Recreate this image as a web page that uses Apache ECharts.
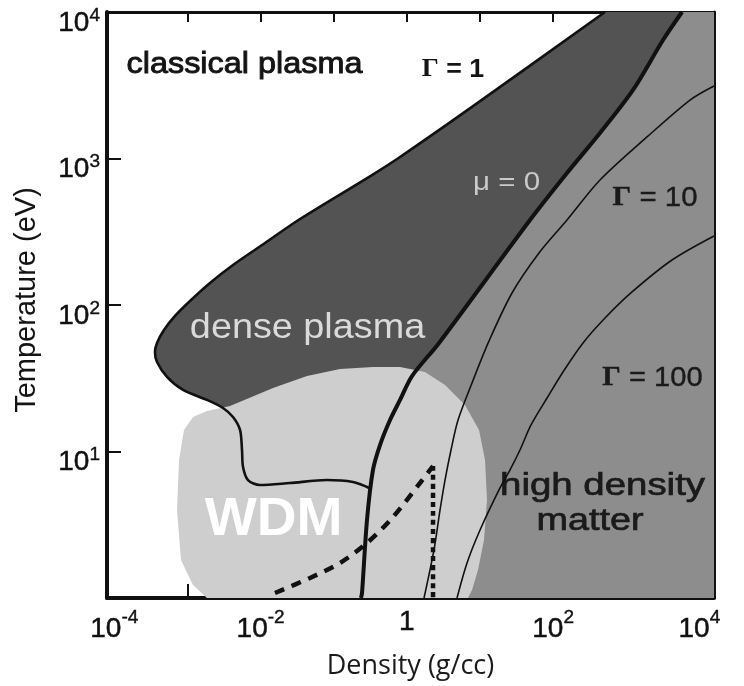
<!DOCTYPE html>
<html>
<head>
<meta charset="utf-8">
<title>Temperature vs density - WDM</title>
<script src="https://cdn.jsdelivr.net/npm/echarts@6.0.0/dist/echarts.min.js"></script>
<style>
    html, body { margin: 0; padding: 0; background: #fff; }
    #chart { width: 744px; height: 686px; }
</style>
</head>
<body>
<div id="chart"></div>
<script>
// every value is a log10: x = log10(density in g/cc), y = log10(T in eV)
var xTickLabels = [-4, -2, 0, 2, 4];
var xTicks = [-3, -2, -1, 0, 1, 2, 3];
var yTickLabels = [1, 2, 3, 4];
var yTicks = [1, 2, 3];

// Gamma = 1 line, round the nose, then the thin line that runs into mu = 0
var gamma1Line = [[2.710, 4.0], [0.891, 3.352], [-0.093, 3.010], [-0.476, 2.887], [-1.461, 2.587],
    [-1.939, 2.423], [-2.377, 2.273], [-2.692, 2.150], [-2.965, 2.027], [-3.170, 1.925],
    [-3.321, 1.829], [-3.416, 1.741], [-3.444, 1.679], [-3.416, 1.611], [-3.280, 1.509],
    [-3.061, 1.420], [-2.733, 1.352], [-2.514, 1.297], [-2.377, 1.235], [-2.281, 1.147],
    [-2.254, 1.010], [-2.240, 0.894], [-2.172, 0.805], [-2.008, 0.771], [-1.598, 0.785],
    [-1.092, 0.805], [-0.736, 0.792], [-0.545, 0.758], [-0.490, 0.744]];
var mu0Line = [[3.763, 4.0], [3.503, 3.809], [3.093, 3.468], [2.641, 3.174], [2.190, 2.901],
    [1.684, 2.580], [0.440, 1.741], [0.071, 1.515], [-0.093, 1.352], [-0.230, 1.215],
    [-0.367, 1.044], [-0.463, 0.874], [-0.545, 0.532], [-0.613, 0.034], [-0.627, 0]];
var gamma10Line = [[4.2, 3.495], [3.872, 3.399], [3.284, 3.147], [2.641, 2.853], [2.190, 2.580],
    [1.807, 2.355], [1.438, 2.082], [1.124, 1.755], [0.891, 1.468], [0.700, 1.215],
    [0.604, 1.010], [0.522, 0.805], [0.454, 0.601], [0.371, 0.328], [0.235, 0]];
var gamma100Line = [[4.2, 2.471], [3.626, 2.307], [3.079, 2.089], [2.710, 1.911], [2.409, 1.741],
    [2.135, 1.543], [1.917, 1.365], [1.698, 1.181], [1.547, 1.010], [1.411, 0.874],
    [1.274, 0.751], [1.001, 0.464], [0.823, 0.239], [0.686, 0]];
var wdmBlob = [[-2.733, 0], [-2.924, 0.089], [-3.088, 0.259], [-3.143, 0.601], [-3.115, 0.942],
    [-3.047, 1.147], [-2.924, 1.235], [-2.733, 1.276], [-2.418, 1.311], [-1.830, 1.433],
    [-1.365, 1.515], [-0.914, 1.563], [-0.463, 1.577], [-0.093, 1.577], [0.248, 1.543],
    [0.522, 1.454], [0.795, 1.317], [0.987, 1.147], [1.069, 0.942], [1.096, 0.669],
    [1.055, 0.396], [0.973, 0.191], [0.891, 0.055], [0.836, 0]];
var dashedCurve = [[-1.803, 0.034], [-1.324, 0.137], [-0.914, 0.239], [-0.531, 0.382],
    [-0.189, 0.553], [0.180, 0.785], [0.358, 0.901]];
var dashDotDrop = [[0.358, 0.901], [0.358, 0]];

var noteText = ['classical plasma', 'Γ = 1', 'μ = 0', 'Γ = 10', 'Γ = 100',
    'dense plasma', 'WDM', 'high density', 'matter'];
var noteX = [-2.220, 0.631, 1.363, 3.394, 3.359, -1.358, -1.823, 2.676, 2.505];
var noteY = [3.638, 3.604, 2.833, 2.730, 1.502, 1.840, 0.532, 0.765, 0.526];

var SANS = '"Liberation Sans", Arial, sans-serif';
var noteStyle = [
    { size: 30, weight: 'normal', color: '#141414', sx: 1.08, bold: 0.9 },
    { size: 25, weight: 'bold', color: '#141414', sx: 1.07, gamma: true },
    { size: 25, weight: 'normal', color: '#cacaca', sx: 1.18 },
    { size: 28, weight: 'normal', color: '#1a1a1a', sx: 1.05, gamma: true, bold: 0.4 },
    { size: 28, weight: 'normal', color: '#1a1a1a', sx: 1.04, gamma: true, bold: 0.4 },
    { size: 35, weight: 'normal', color: '#dadada', sx: 1.08 },
    { size: 53, weight: 'bold', color: '#ffffff', sx: 1.04 },
    { size: 32, weight: 'normal', color: '#1a1a1a', sx: 1.2, bold: 0.7 },
    { size: 32, weight: 'normal', color: '#1a1a1a', sx: 1.18, bold: 0.7 }
];

function pow10Label(v) {
    if (v === 0) return '{b|1}';
    return '{b|10}{s|' + v + '}';
}

function polygonSeries(points, color) {
    return {
        type: 'custom', data: points, silent: true, clip: true,
        renderItem: function (params, api) {
            if (params.dataIndex !== 0) return null;
            var pts = points.map(function (p) { return api.coord(p); });
            return { type: 'polygon', shape: { points: pts }, style: { fill: color } };
        }
    };
}

function curveSeries(points, width, dash) {
    return {
        type: 'line', data: points, symbol: 'none', smooth: 0.3, silent: true,
        lineStyle: { color: '#111', width: width, type: dash || 'solid' }
    };
}

var darkPoly = gamma1Line.concat(mu0Line.filter(function (p) { return p[1] > 0.744; }).reverse());
var midPoly = mu0Line.concat([[4.2, 0], [4.2, 4]]);

var tickFont = { fontSize: 28, fontFamily: SANS, color: '#111', textBorderColor: '#111', textBorderWidth: 0.5, verticalAlign: 'middle' };
var supFont = { fontSize: 19, fontFamily: SANS, color: '#111', textBorderColor: '#111', textBorderWidth: 0.4, verticalAlign: 'middle' };

var chart = echarts.init(document.getElementById('chart'));
chart.setOption({
    animation: false,
    backgroundColor: '#fff',
    grid: { left: 107, right: 30, top: 12, bottom: 88 },
    xAxis: [{
        type: 'value', position: 'bottom', min: -4.1, max: 4.2,
        name: 'Density (g/cc)', nameLocation: 'middle', nameGap: 55,
        nameTextStyle: { fontFamily: '"Open Sans", sans-serif', fontSize: 27, color: '#1a1a1a' },
        axisLine: { show: true, onZero: false, lineStyle: { color: '#111', width: 4 } },
        axisTick: { show: true, inside: true, length: 14, customValues: xTicks, lineStyle: { color: '#111', width: 2 } },
        axisLabel: {
            customValues: xTickLabels, margin: 10, formatter: pow10Label,
            rich: {
                b: tickFont,
                s: Object.assign({}, supFont, { padding: [0, 0, 24, 0] })
            }
        },
        splitLine: { show: false }
    }, {
        type: 'value', position: 'top', min: -4.1, max: 4.2,
        axisLine: { show: true, onZero: false, lineStyle: { color: '#111', width: 3 } },
        axisTick: { show: true, inside: true, length: 10, customValues: xTicks, lineStyle: { color: '#111', width: 2 } },
        axisLabel: { show: false },
        splitLine: { show: false }
    }],
    yAxis: [{
        type: 'value', position: 'left', min: 0, max: 4,
        name: 'Temperature (eV)', nameLocation: 'middle', nameGap: 66,
        nameTextStyle: { fontFamily: SANS, fontSize: 29, color: '#141414', padding: [0, 0, 0, 10] },
        axisLine: { show: true, onZero: false, lineStyle: { color: '#111', width: 4 } },
        axisTick: { show: true, inside: true, length: 14, customValues: yTicks, lineStyle: { color: '#111', width: 2 } },
        axisLabel: {
            customValues: yTickLabels, margin: 7, formatter: pow10Label,
            rich: {
                b: Object.assign({}, tickFont, { padding: [22, 0, 0, 0] }),
                s: Object.assign({}, supFont, { padding: [7, 0, 0, 0] })
            }
        },
        splitLine: { show: false }
    }, {
        type: 'value', position: 'right', min: 0, max: 4,
        axisLine: { show: true, onZero: false, lineStyle: { color: '#111', width: 3 } },
        axisTick: { show: false },
        axisLabel: { show: false },
        splitLine: { show: false }
    }],
    series: [
        polygonSeries(midPoly, '#8d8d8d'),
        polygonSeries(darkPoly, '#535353'),
        polygonSeries(wdmBlob, '#cecece'),
        curveSeries(gamma1Line, 2.6),
        curveSeries(mu0Line, 4),
        curveSeries(gamma10Line, 1.6),
        curveSeries(gamma100Line, 1.6),
        curveSeries(dashedCurve, 4.5, [10, 8]),
        curveSeries(dashDotDrop, 4.5, [5, 4]),
        {
            type: 'custom', silent: true, clip: false,
            data: noteX.map(function (x, i) { return [x, noteY[i]]; }),
            renderItem: function (params, api) {
                var i = params.dataIndex;
                var p = api.coord([api.value(0), api.value(1)]);
                var s = noteStyle[i];
                var style = {
                    fill: s.color, fontSize: s.size, fontFamily: SANS, fontWeight: s.weight,
                    align: 'center', verticalAlign: 'middle'
                };
                if (s.bold) {
                    style.stroke = s.color;
                    style.lineWidth = s.bold;
                }
                if (s.gamma) {
                    style.text = '{g|Γ}{t|' + noteText[i].slice(1) + '}';
                    style.rich = {
                        g: { fill: s.color, fontSize: s.size, fontFamily: '"Liberation Serif", serif', fontWeight: 'bold' },
                        t: { fill: s.color, fontSize: s.size, fontFamily: SANS, fontWeight: s.weight }
                    };
                } else {
                    style.text = noteText[i];
                }
                return { type: 'text', x: p[0], y: p[1], scaleX: s.sx, style: style };
            }
        }
    ]
});
</script>
</body>
</html>
